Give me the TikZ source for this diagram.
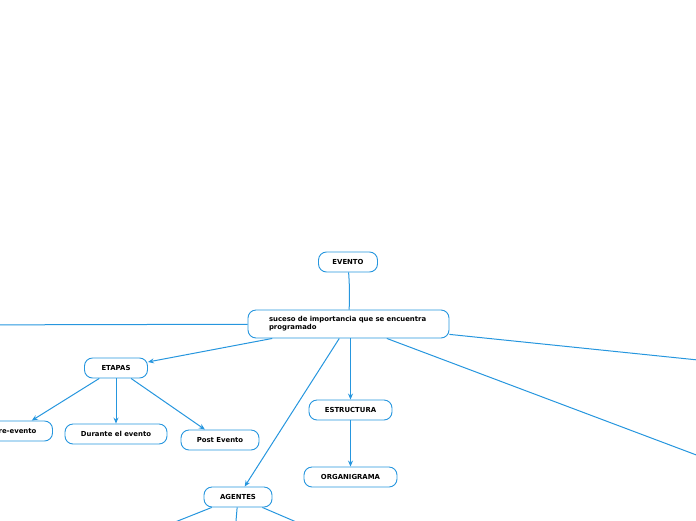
\documentclass[tikz,border=0pt]{standalone}
\usepackage{fontspec}
\setmainfont{DejaVu Sans}
\usetikzlibrary{arrows.meta, positioning}
\definecolor{mapblue}{RGB}{38,150,222}

\begin{document}
\begin{tikzpicture}[
          x=1pt, y=-1pt,
          every node/.style={font=\fontsize{6.9}{8.2}\selectfont\bfseries},
          topic/.style={draw=mapblue, line width=0.9pt, rounded corners=8pt,
                        minimum height=20pt, inner sep=2pt, align=center},
          arr/.style={-{Stealth[length=6pt, width=5pt]}, line width=1pt, mapblue},
          link/.style={line width=1pt, mapblue},
        ]
          \useasboundingbox (0,0) rectangle (696,520);
          \clip (0,0) rectangle (696,520);

          \node[topic, minimum width=59pt] (evento) at (348,262) {EVENTO};
          \node[topic, minimum height=28pt, text width=159pt, inner xsep=21pt, align=left] (suceso) at (348.5,324)
            {suceso de importancia que se encuentra\\programado};
          \node[topic, minimum width=63pt] (etapas) at (116,368) {ETAPAS};
          \node[topic, minimum width=75pt] (pre) at (15,431) {Pre-evento};
          \node[topic, minimum width=102pt] (durante) at (116,434) {Durante el evento};
          \node[topic, minimum width=78pt] (post) at (220,440) {Post Evento};
          \node[topic, minimum width=83pt] (estructura) at (350.5,410) {ESTRUCTURA};
          \node[topic, minimum width=93pt] (organigrama) at (350.5,477) {ORGANIGRAMA};
          \node[topic, minimum width=68pt] (agentes) at (238,497) {AGENTES};

          % ramas que salen del recuadro
          \coordinate (offleft) at (-60,325);
          \coordinate (offright1) at (800,370.5);
          \coordinate (offright2) at (800,494);
          \coordinate (ag1) at (150,532);
          \coordinate (ag2) at (234,545);
          \coordinate (ag3) at (322,533);

          \draw[link] (evento) to[bend left=3] (suceso);
          \draw[arr] (suceso) -- (offleft);
          \draw[arr] (suceso) -- (etapas);
          \draw[arr] (suceso) -- (agentes);
          \draw[arr] (suceso.south -| estructura) -- (estructura);
          \draw[arr] (suceso) -- (offright1);
          \draw[arr] (suceso) -- (offright2);

          \draw[arr] (etapas) -- (pre);
          \draw[arr] (etapas) -- (durante);
          \draw[arr] (etapas) -- (post);
          \draw[arr] (estructura) -- (organigrama);

          \draw[arr] (agentes) -- (ag1);
          \draw[arr] (agentes) -- (ag2);
          \draw[arr] (agentes) -- (ag3);
        \end{tikzpicture}
\end{document}
